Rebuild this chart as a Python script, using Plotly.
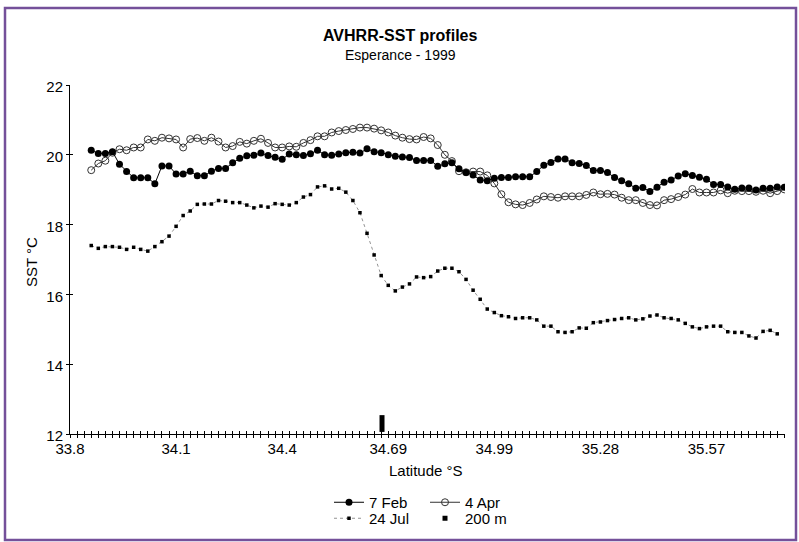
import plotly.graph_objects as go

# ---------------- data ----------------
lat_start = 33.8          # latitude at the left end of the axis
lat_step = 0.01972        # latitude spacing between samples
first_sample = 3          # data begins 3 samples to the right of the axis start

tick_labels = ["33.8", "34.1", "34.4", "34.69", "34.99", "35.28", "35.57"]
y_ticks = [12, 14, 16, 18, 20, 22]

feb7 = [20.13, 20.04, 20.04, 20.09, 19.73, 19.52, 19.34, 19.34, 19.34, 19.17, 19.68, 19.68,
        19.45, 19.45, 19.53, 19.40, 19.40, 19.53, 19.61, 19.61, 19.77, 19.90, 19.97, 19.99,
        20.05, 19.98, 19.93, 19.87, 20.02, 20.00, 19.98, 20.03, 20.13, 20.00, 19.99, 20.02,
        20.06, 20.07, 20.05, 20.17, 20.09, 20.06, 20.00, 19.96, 19.94, 19.92, 19.84, 19.84, 19.84,
        19.67, 19.74, 19.77, 19.60, 19.49, 19.42, 19.28, 19.26, 19.33, 19.35, 19.35, 19.37,
        19.37, 19.37, 19.52, 19.70, 19.78, 19.88, 19.88, 19.77, 19.75, 19.69, 19.55, 19.55, 19.49, 19.35,
        19.26, 19.17, 19.04, 19.06, 18.95, 19.07, 19.21, 19.28, 19.39, 19.46, 19.41, 19.36,
        19.30, 19.15, 19.15, 19.08, 19.01, 19.05, 19.05, 18.99, 19.04, 19.04, 19.08, 19.07]

apr4 = [19.56, 19.75, 19.83, 20.06, 20.16, 20.13, 20.21, 20.21, 20.44, 20.40, 20.49, 20.47,
        20.44, 20.21, 20.45, 20.48, 20.40, 20.49, 20.38, 20.21, 20.25, 20.37, 20.32, 20.40,
        20.46, 20.34, 20.21, 20.21, 20.24, 20.23, 20.34, 20.42, 20.53, 20.53, 20.64, 20.68,
        20.71, 20.74, 20.78, 20.78, 20.75, 20.70, 20.64, 20.55, 20.49, 20.45, 20.44, 20.51, 20.47,
        20.28, 20.00, 19.82, 19.53, 19.50, 19.52, 19.52, 19.41, 19.18, 18.87, 18.64, 18.58,
        18.56, 18.62, 18.72, 18.81, 18.79, 18.77, 18.81, 18.81, 18.81, 18.85, 18.92, 18.87, 18.88, 18.86,
        18.77, 18.70, 18.70, 18.62, 18.56, 18.55, 18.70, 18.73, 18.79, 18.86, 19.02, 18.92,
        18.92, 18.92, 18.98, 18.90, 18.97, 18.96, 18.96, 18.94, 18.97, 18.90, 18.96, 19.01]

jul24 = [17.40, 17.32, 17.37, 17.37, 17.35, 17.29, 17.35, 17.29, 17.24, 17.37, 17.51, 17.67,
         17.95, 18.26, 18.39, 18.58, 18.59, 18.59, 18.69, 18.67, 18.63, 18.63, 18.56, 18.48,
         18.53, 18.50, 18.60, 18.58, 18.56, 18.63, 18.79, 18.86, 19.08, 19.11, 19.02, 19.04,
         18.93, 18.69, 18.34, 17.75, 17.13, 16.54, 16.26, 16.10, 16.21, 16.30, 16.50, 16.48, 16.51,
         16.67, 16.75, 16.75, 16.65, 16.43, 16.12, 15.86, 15.58, 15.48, 15.39, 15.36, 15.31,
         15.33, 15.33, 15.27, 15.09, 15.09, 14.93, 14.91, 14.93, 15.04, 15.03, 15.19, 15.21, 15.25, 15.28,
         15.31, 15.33, 15.27, 15.30, 15.38, 15.41, 15.33, 15.31, 15.27, 15.17, 15.07, 15.02,
         15.07, 15.09, 15.09, 14.93, 14.91, 14.91, 14.81, 14.75, 14.94, 14.97, 14.87]

mark_200m_lat = [34.67]
mark_200m_sst = [12.3]

# sample latitudes (regular sampling grid)
lat = [round(lat_start + lat_step * (first_sample + i), 4) for i in range(len(feb7))]
tick_vals = [lat_start + 15 * lat_step * k for k in range(len(tick_labels))]
x_range = [lat_start, lat_start + 101.1 * lat_step]

FONT = "Arial, Liberation Sans, sans-serif"

fig = go.Figure()

# row 1 of legend
fig.add_trace(go.Scatter(
    x=lat, y=apr4, name="4 Apr", mode="lines+markers",
    line=dict(color="#333333", width=1),
    marker=dict(symbol="circle-open", size=7, color="#333333", line=dict(width=1)),
    legend="legend", legendrank=2))

fig.add_trace(go.Scatter(
    x=lat, y=feb7, name="7 Feb", mode="lines+markers",
    line=dict(color="black", width=1),
    marker=dict(symbol="circle", size=7, color="black"),
    legend="legend", legendrank=1))

# row 2 of legend
fig.add_trace(go.Scatter(
    x=lat[:len(jul24)], y=jul24, name="24 Jul", mode="lines+markers",
    line=dict(color="#777777", width=0.8, dash="dot"),
    marker=dict(symbol="square", size=3.5, color="black"),
    legend="legend2", legendrank=1))

fig.add_trace(go.Scatter(
    x=mark_200m_lat, y=mark_200m_sst, name="200 m", mode="markers",
    marker=dict(symbol="line-ns", size=12, color="black",
                line=dict(width=5, color="black")),
    showlegend=False))

# legend-only key for the 200 m mark (small square as in the original key)
fig.add_trace(go.Scatter(
    x=[None], y=[None], name="200 m", mode="markers",
    marker=dict(symbol="square", size=5, color="black"),
    legend="legend2", legendrank=2))

# helper trace for overlay axes (inner halves of the crossing ticks)
fig.add_trace(go.Scatter(x=[None], y=[None], xaxis="x2", yaxis="y2",
                         showlegend=False, hoverinfo="skip"))

fig.update_layout(
    width=799, height=542, autosize=False,
    margin=dict(l=70, r=14, t=85, b=108, autoexpand=False),
    paper_bgcolor="white", plot_bgcolor="white",
    font=dict(family=FONT, size=15, color="black"),
    showlegend=True,
    xaxis=dict(
        range=x_range, showgrid=False, zeroline=False,
        showline=True, linecolor="black", linewidth=1,
        tickmode="array", tickvals=tick_vals, ticktext=tick_labels,
        ticks="outside", ticklen=3, tickcolor="black", tickwidth=1,
        minor=dict(tick0=lat_start, dtick=lat_step, ticks="outside", ticklen=3,
                   tickcolor="black", tickwidth=1),
        tickfont=dict(size=15), ticklabelstandoff=-2,
    ),
    xaxis2=dict(
        range=x_range, overlaying="x", anchor="y2", side="bottom",
        showgrid=False, zeroline=False, showline=False,
        tickmode="linear", tick0=lat_start, dtick=lat_step,
        ticks="inside", ticklen=3, tickcolor="black", tickwidth=1,
        showticklabels=False,
    ),
    yaxis=dict(
        range=[12, 22], showgrid=False, zeroline=False,
        showline=True, linecolor="black", linewidth=1,
        tickmode="array", tickvals=y_ticks,
        ticks="outside", ticklen=3, tickcolor="black",
        tickfont=dict(size=15), ticklabelshift=2,
    ),
    yaxis2=dict(
        range=[12, 22], overlaying="y", anchor="x2", side="left",
        showgrid=False, zeroline=False, showline=False,
        tickmode="array", tickvals=y_ticks,
        ticks="inside", ticklen=3, tickcolor="black",
        showticklabels=False,
    ),
    legend=dict(orientation="h", x=(329 - 70) / 715, xanchor="left",
                y=(434 - 486) / 349, yanchor="top",
                entrywidth=51, font=dict(size=15), bgcolor="rgba(0,0,0,0)",
                traceorder="normal", tracegroupgap=0),
    legend2=dict(orientation="h", x=(329 - 70) / 715, xanchor="left",
                 y=(434 - 502) / 349, yanchor="top",
                 entrywidth=51, font=dict(size=15), bgcolor="rgba(0,0,0,0)",
                 traceorder="normal", tracegroupgap=0),
    annotations=[
        dict(text="<b>AVHRR-SST profiles</b>", xref="paper", yref="paper",
             x=(400 - 70) / 715, y=(434 - 35) / 349, xanchor="center", yanchor="middle",
             showarrow=False, font=dict(size=16)),
        dict(text="Esperance - 1999", xref="paper", yref="paper",
             x=(400 - 70) / 715, y=(434 - 55) / 349, xanchor="center", yanchor="middle",
             showarrow=False, font=dict(size=14)),
        dict(text="Latitude °S", xref="paper", yref="paper",
             x=(426 - 70) / 715, y=(434 - 470) / 349, xanchor="center", yanchor="middle",
             showarrow=False, font=dict(size=15)),
        dict(text="SST °C", xref="paper", yref="paper", textangle=-90,
             x=(31 - 70) / 715, y=(434 - 262) / 349, xanchor="center", yanchor="middle",
             showarrow=False, font=dict(size=15)),
    ],
    shapes=[
        dict(type="rect", xref="paper", yref="paper",
             x0=(5 - 70) / 715, x1=(796 - 70) / 715,
             y0=(434 - 540) / 349, y1=(434 - 8) / 349,
             line=dict(color="#74509a", width=2.5), fillcolor="rgba(0,0,0,0)"),
    ],
)

post = ("document.body.style.margin='0';"
        "document.documentElement.style.overflow='hidden';")

fig.write_html("out.html",
               config={"displayModeBar": False, "responsive": False},
               post_script=post)
